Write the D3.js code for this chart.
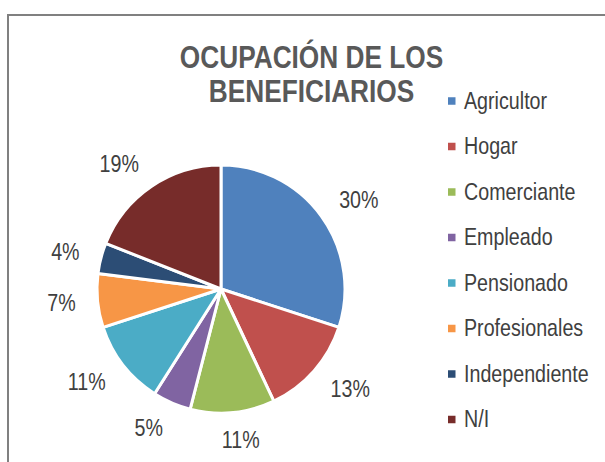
<!DOCTYPE html>
<html><head><meta charset="utf-8">
<script src="https://cdn.jsdelivr.net/npm/d3@7"></script>
<style>
html,body{margin:0;padding:0;background:#fff;}
svg{display:block;}
</style></head>
<body>
<svg id="chart" width="605" height="462"></svg>
<script>
const categories = ["Agricultor","Hogar","Comerciante","Empleado","Pensionado","Profesionales","Independiente","N/I"];
const values = [30,13,11,5,11,7,4,19];
const labels = ["30%","13%","11%","5%","11%","7%","4%","19%"];
const colors = ["#4F81BD","#C0504D","#9BBB59","#8064A2","#4BACC6","#F79646","#2C4D75","#772C2A"];
const titleLines = ["OCUPACIÓN DE LOS","BENEFICIARIOS"];

const FONT = "'Liberation Sans',Arial,sans-serif";
const K = 0.82; // horizontal condensing to mimic Arial Narrow
const svg = d3.select("#chart");
svg.append("rect").attr("x",8).attr("y",15).attr("width",700).attr("height",600)
  .attr("fill","#fff").attr("stroke","#808080").attr("stroke-width",2);

function place(sel, x, y){ sel.attr("x",0).attr("y",0).attr("transform",`translate(${x},${y}) scale(${K},1)`); }

titleLines.forEach((t,i)=>{
  svg.append("text").attr("text-anchor","middle")
    .attr("font-family",FONT).attr("font-weight","bold").attr("font-size",32).attr("fill","#595959")
    .text(t).call(place, 311.5, 68 + i*34);
});

const cx=221, cy=289, r=124;
const pie = d3.pie().sort(null).value(d=>d)(values);
const arc = d3.arc().innerRadius(0).outerRadius(r);
const g = svg.append("g").attr("transform",`translate(${cx},${cy})`);
g.selectAll("path").data(pie).join("path")
  .attr("d",arc).attr("fill",(d,i)=>colors[i])
  .attr("stroke","#fff").attr("stroke-width",3).attr("stroke-linejoin","round");

const RX = 146, RY = 141;
g.selectAll("text.lbl").data(pie).join("text").attr("class","lbl")
  .attr("font-family",FONT).attr("font-size",24).attr("fill","#404040")
  .attr("text-anchor","middle").attr("dominant-baseline","central")
  .text((d,i)=>labels[i])
  .each(function(d){
    const b=this.getBBox();
    const w=b.width*K, h=20;
    const a=(d.startAngle+d.endAngle)/2;
    const s=Math.sin(a), c=-Math.cos(a);
    const fx=Math.max(-1,Math.min(1,s/0.3));
    const x=RX*s + fx*w/2;
    const y=RY*c + c*h/2;
    d3.select(this).call(place, x, y);
  });

const leg = d3.scaleBand().domain(categories).range([78,442]);
const items = svg.append("g").selectAll("g").data(categories).join("g")
  .attr("transform",d=>`translate(448,${leg(d)+leg.bandwidth()/2})`);
items.append("rect").attr("x",0).attr("y",-3.5).attr("width",7.5).attr("height",7.5)
  .attr("fill",(d,i)=>colors[i]);
items.append("text").attr("dominant-baseline","central")
  .attr("font-family",FONT).attr("font-size",24).attr("fill","#404040").text(d=>d)
  .each(function(){ d3.select(this).call(place, 16, 0); });
</script>
</body></html>
